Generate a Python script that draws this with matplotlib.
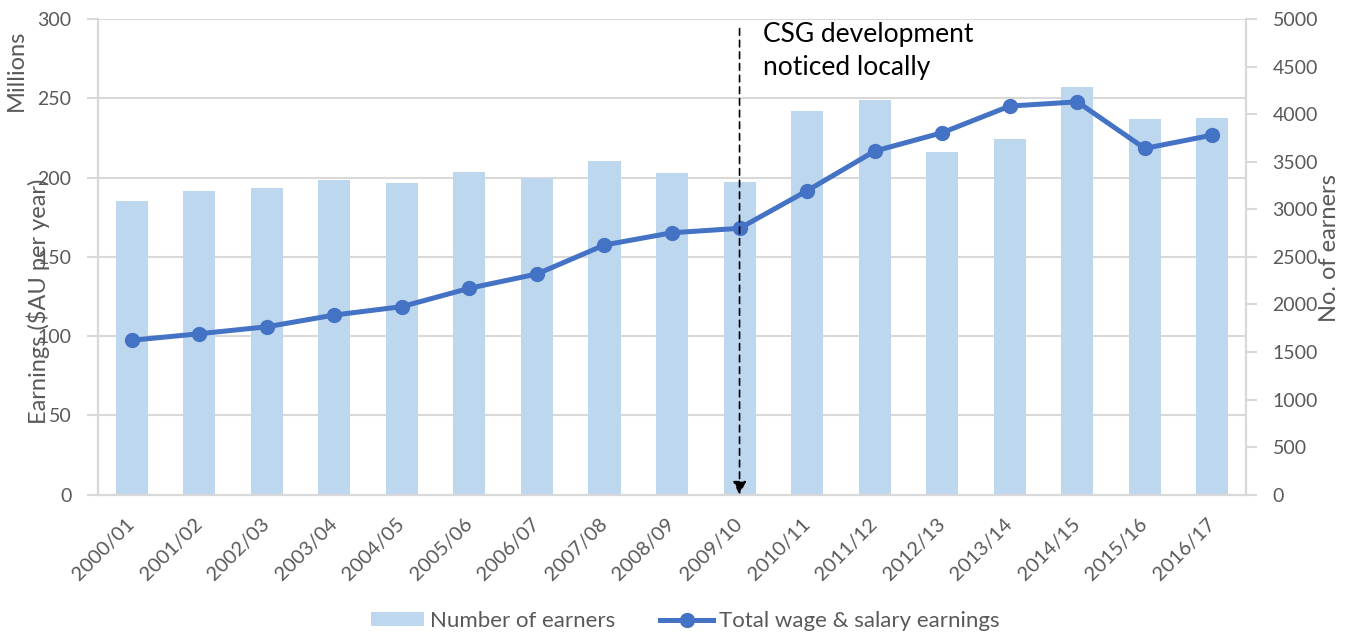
import matplotlib
matplotlib.use("Agg")
import matplotlib.pyplot as plt
import numpy as np

plt.rcParams['font.family'] = ['Lato', 'DejaVu Sans']

years = ["2000/01", "2001/02", "2002/03", "2003/04", "2004/05", "2005/06",
         "2006/07", "2007/08", "2008/09", "2009/10", "2010/11", "2011/12",
         "2012/13", "2013/14", "2014/15", "2015/16", "2016/17"]
# number of earners (right axis)
earners = [3084, 3189, 3227, 3308, 3273, 3389, 3332, 3510, 3378, 3290,
           4036, 4148, 3605, 3735, 4285, 3949, 3962]
# total wage & salary earnings, millions $AU (left axis)
earnings = [97.4, 101.5, 105.9, 113.3, 118.6, 130.2, 139.2, 157.5, 165.2,
            168.0, 191.7, 216.7, 228.3, 245.1, 247.8, 218.4, 226.8]

bar_col = "#BDD7EE"
line_col = "#4472C4"
txt_col = "#595959"
grid_col = "#D9D9D9"

fig = plt.figure(figsize=(13.55, 6.35), dpi=100)
ax = fig.add_axes([0.0723, 0.221, 0.8473, 0.749])
ax2 = ax.twinx()

x = np.arange(len(years))

# bars on the secondary axis, drawn behind the line
ax2.bar(x, earners, width=0.475, color=bar_col, zorder=1, label="Number of earners")
ax2.set_ylim(0, 5000)
ax2.set_yticks(range(0, 5001, 500))

ax.set_zorder(ax2.get_zorder() + 1)
ax.patch.set_visible(False)
ax.plot(x, earnings, color=line_col, lw=3.6, marker="o", ms=10, zorder=3,
        label="Total wage & salary earnings")
ax.set_ylim(0, 300)
ax.set_yticks(range(0, 301, 50))
ax.set_xlim(-0.5, len(years) - 0.5)
ax.set_xticks(x)
ax.set_xticklabels(years, rotation=45, ha="right", va="center",
                   rotation_mode="anchor")

# gridlines drawn on the bar axis so they sit under the bars
for v in range(50, 301, 50):
    ax2.axhline(v / 300 * 5000, color=grid_col, lw=1.5, zorder=0)

for a in (ax, ax2):
    for s in a.spines.values():
        s.set_color(grid_col)
        s.set_linewidth(1.5)
    a.spines["top"].set_visible(False)
    a.tick_params(axis="y", labelcolor=txt_col, labelsize=14, length=8,
                  width=1.5, color=grid_col, pad=11)
ax.tick_params(axis="x", labelsize=14.5, labelcolor=txt_col, length=0, pad=19)

# axis titles
fig.text(0.028, 0.526, "Earnings ($AU per year)", rotation=90, ha="center",
         va="center", fontsize=17, color=txt_col)
fig.text(0.0118, 0.89, "Millions", rotation=90, ha="center", va="center",
         fontsize=17, color=txt_col)
fig.text(0.9815, 0.609, "No. of earners", rotation=90, ha="center",
         va="center", fontsize=17, color=txt_col)

# annotation: CSG development
ax.annotate("", xy=(9, 0), xytext=(9, 294),
            arrowprops=dict(arrowstyle="-|>", linestyle=(0, (4, 3)),
                            color="black", lw=1.2, mutation_scale=20,
                            shrinkA=0, shrinkB=0), zorder=5)
ax.text(9.35, 298, "CSG development\nnoticed locally", ha="left", va="top",
        fontsize=19, color="black", linespacing=1.4)

# legend
h1, l1 = ax2.get_legend_handles_labels()
h2, l2 = ax.get_legend_handles_labels()
fig.legend(h1 + h2, l1 + l2, loc="center", bbox_to_anchor=(0.506, 0.022),
           ncol=2, frameon=False, fontsize=16, labelcolor=txt_col,
           handlelength=2.4, handleheight=0.6, columnspacing=2.0,
           handletextpad=0.27)

fig.savefig("out.png", dpi=100)
